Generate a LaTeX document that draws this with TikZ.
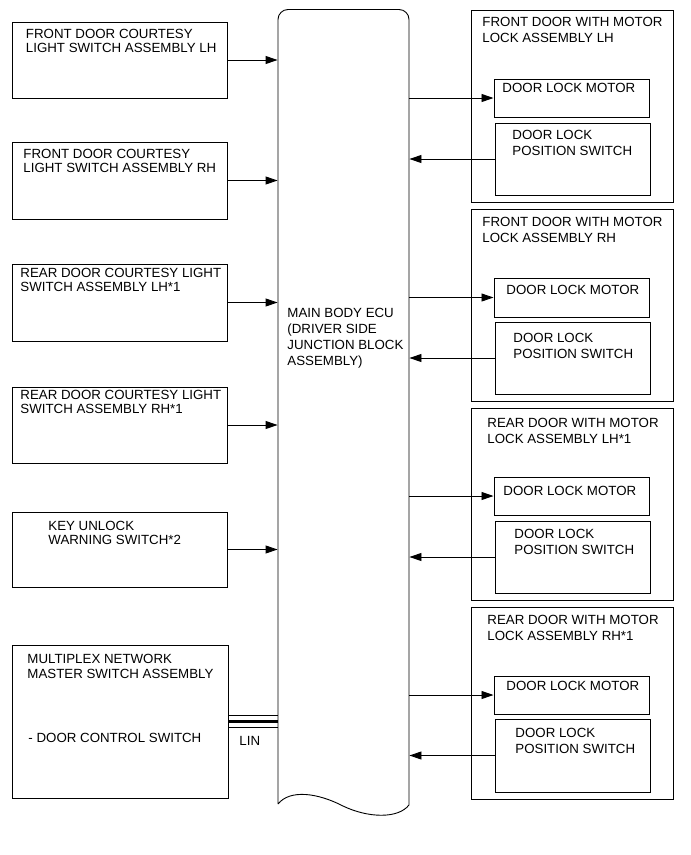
\documentclass[tikz,border=0pt]{standalone}
\usepackage{fontspec}
\setmainfont{Liberation Sans}
\usetikzlibrary{arrows.meta,fit}
\begin{document}
\begin{tikzpicture}[x=1pt,y=-1pt,
  line width=0.9pt,
  box/.style={draw, inner sep=0pt, line width=1pt},
  lbl/.style={inner sep=0pt, anchor=north west, align=left, font=\fontsize{13.3}{14}\selectfont},
  lblw/.style={inner sep=0pt, anchor=north west, align=left, font=\fontsize{13.3}{16}\selectfont},
  arr/.style={-{Triangle[length=12pt,width=8pt]}}]
\useasboundingbox (0,0) rectangle (691,855);

% ECU
\node[inner sep=0pt, fit={(278,9.5) (409,804)}] (ecu) {};
\draw (278,804) -- (278,19.5) arc[start angle=180, end angle=90, radius=10pt]
  -- (399,9.5) arc[start angle=90, end angle=0, radius=10pt]
  -- (409,805) .. controls (398,819) and (368,818) .. (343,806)
  .. controls (318,793) and (290,789) .. (278,804);
\node[lblw] (ecut) at (287,307.3) {MAIN BODY ECU\\(DRIVER SIDE\\JUNCTION BLOCK\\ASSEMBLY)};

% Left boxes
\node[box, fit={(12,22) (227,98)}] (L1) {};
\node[lbl] (L1t) at (25.5,29) {FRONT DOOR COURTESY\\LIGHT SWITCH ASSEMBLY LH};
\node[box, fit={(12,142) (227,219)}] (L2) {};
\node[lbl] (L2t) at (23,149) {FRONT DOOR COURTESY\\LIGHT SWITCH ASSEMBLY RH};
\node[box, fit={(12,264) (227,341)}] (L3) {};
\node[lbl] (L3t) at (20,268) {REAR DOOR COURTESY LIGHT\\SWITCH ASSEMBLY LH*1};
\node[box, fit={(12,387) (227,463)}] (L4) {};
\node[lbl] (L4t) at (20,390) {REAR DOOR COURTESY LIGHT\\SWITCH ASSEMBLY RH*1};
\node[box, fit={(12,512) (227,587)}] (L5) {};
\node[lbl] (L5t) at (48,520.5) {KEY UNLOCK\\WARNING SWITCH*2};
\node[box, fit={(12,645) (228,798)}] (L6) {};
\node[lbl, font=\fontsize{13.3}{15}\selectfont] (L6t) at (27,653.3) {MULTIPLEX NETWORK\\MASTER SWITCH ASSEMBLY};
\node[lbl] (L6s) at (28,732.3) {- DOOR CONTROL SWITCH};

\foreach \n in {L1,L2,L3,L4,L5}
  \draw[arr] (\n.east) -- (\n.east -| ecu.west);

% LIN bus
\draw[line width=3.5pt] (L6.east) -- (L6.east -| ecu.west);
\draw ([yshift=5.7pt]L6.east) -- ([yshift=5.7pt]L6.east -| ecu.west);
\draw ([yshift=-5.5pt]L6.east) -- ([yshift=-5.5pt]L6.east -| ecu.west);
\node[lbl] (lin) at (239,736) {LIN};

% Right groups
\node[box, fit={(471,10) (673,202)}] (G1) {};
\node[lblw] (G1t) at (482,16.3) {FRONT DOOR WITH MOTOR\\LOCK ASSEMBLY LH};
\node[box, fit={(494,79) (649,117)}] (M1) {};
\node[lbl] (M1t) at (502,82.3) {DOOR LOCK MOTOR};
\node[box, fit={(495,123) (650,195)}] (S1) {};
\node[lblw] (S1t) at (512,129.3) {DOOR LOCK\\POSITION SWITCH};

\node[box, fit={(471,209) (673,401)}] (G2) {};
\node[lblw] (G2t) at (482,216.3) {FRONT DOOR WITH MOTOR\\LOCK ASSEMBLY RH};
\node[box, fit={(494,278) (649,317)}] (M2) {};
\node[lbl] (M2t) at (506,284.3) {DOOR LOCK MOTOR};
\node[box, fit={(495,322) (650,394)}] (S2) {};
\node[lblw] (S2t) at (513,332.3) {DOOR LOCK\\POSITION SWITCH};

\node[box, fit={(471,408) (673,600)}] (G3) {};
\node[lblw] (G3t) at (487,417.3) {REAR DOOR WITH MOTOR\\LOCK ASSEMBLY LH*1};
\node[box, fit={(494,477) (649,515)}] (M3) {};
\node[lbl] (M3t) at (503,485.3) {DOOR LOCK MOTOR};
\node[box, fit={(495,521) (650,593)}] (S3) {};
\node[lblw] (S3t) at (514,528.3) {DOOR LOCK\\POSITION SWITCH};

\node[box, fit={(471,607) (673,799)}] (G4) {};
\node[lblw] (G4t) at (487,614.3) {REAR DOOR WITH MOTOR\\LOCK ASSEMBLY RH*1};
\node[box, fit={(494,676) (649,714)}] (M4) {};
\node[lbl] (M4t) at (506,680.3) {DOOR LOCK MOTOR};
\node[box, fit={(495,719) (650,792)}] (S4) {};
\node[lblw] (S4t) at (515,727.3) {DOOR LOCK\\POSITION SWITCH};

\foreach \k in {1,2,3,4}{
  \draw[arr] (M\k.west -| ecu.east) -- (M\k.west);
  \draw[arr] (S\k.west) -- (S\k.west -| ecu.east);
}
\end{tikzpicture}
\end{document}
